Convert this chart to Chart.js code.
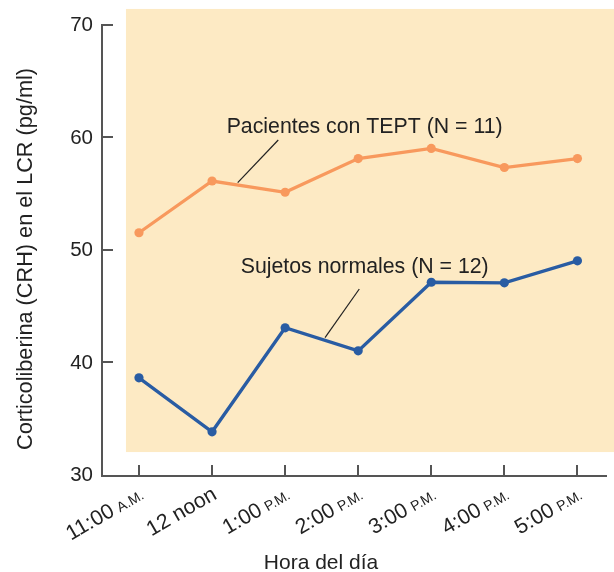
<html>
  <head>
    <script src="https://cdn.jsdelivr.net/npm/chart.js"></script>
    <style>
      body { margin: 0; background: #fff; }
    </style>
  </head>
  <body>
    <canvas id="myChart" width="614" height="572"></canvas>
    <script>
// horas del día (eje x) y valores de CRH en LCR (pg/ml)
const horas = ['11:00', '12 noon', '1:00', '2:00', '3:00', '4:00', '5:00'];
const sufijos = ['A.M.', '', 'P.M.', 'P.M.', 'P.M.', 'P.M.', 'P.M.'];
const tept = [51.5, 56.1, 55.1, 58.1, 59.0, 57.3, 58.1];
const normales = [38.6, 33.8, 43.05, 41.0, 47.1, 47.05, 49.0];
const marcasY = [30, 40, 50, 60, 70];

const naranja = 'rgb(248, 153, 93)';
const azul = 'rgb(41, 92, 163)';
const ejeColor = '#555';
const texto = '#222';
const fuente = '"Liberation Sans", Arial, Helvetica, sans-serif';

// rótulos dentro del gráfico (coordenadas en unidades de los ejes)
const rotulos = [
  { texto: 'Pacientes con TEPT (N = 11)', x: 1.20, y: 60.34, linea: [1.906, 59.75, 1.351, 55.95] },
  { texto: 'Sujetos normales (N = 12)', x: 1.392, y: 47.92, linea: [3.015, 46.5, 2.546, 42.17] }
];

const puntos = (vals) => vals.map((v, i) => ({ x: i, y: v }));

const extras = {
  id: 'extras',
  beforeDraw(chart) {
    // fondo sombreado del gráfico
    const ctx = chart.ctx, sx = chart.scales.x, sy = chart.scales.y;
    const x0 = sx.getPixelForValue(-0.178);
    const y0 = sy.getPixelForValue(71.4);
    const y1 = sy.getPixelForValue(32.0);
    ctx.save();
    ctx.fillStyle = 'rgb(253, 234, 196)';
    ctx.fillRect(x0, y0, chart.width - x0, y1 - y0);
    ctx.restore();
  },
  afterDraw(chart) {
    const ctx = chart.ctx, sx = chart.scales.x, sy = chart.scales.y;
    const area = chart.chartArea;
    ctx.save();

    // marcas hacia adentro
    ctx.strokeStyle = ejeColor;
    ctx.lineWidth = 2;
    marcasY.forEach(v => {
      if (v === 30) return;
      const y = Math.round(sy.getPixelForValue(v));
      ctx.beginPath();
      ctx.moveTo(area.left, y);
      ctx.lineTo(area.left + 11, y);
      ctx.stroke();
    });
    horas.forEach((h, i) => {
      const x = Math.round(sx.getPixelForValue(i));
      ctx.beginPath();
      ctx.moveTo(x, area.bottom);
      ctx.lineTo(x, area.bottom - 11);
      ctx.stroke();
    });

    // etiquetas del eje y
    ctx.fillStyle = texto;
    ctx.font = '20.5px ' + fuente;
    ctx.textAlign = 'right';
    ctx.textBaseline = 'middle';
    marcasY.forEach(v => {
      ctx.fillText(String(v), area.left - 9, sy.getPixelForValue(v) + 1);
    });

    // etiquetas del eje x, giradas
    horas.forEach((h, i) => {
      const x = sx.getPixelForValue(i);
      ctx.save();
      ctx.translate(x + 6, area.bottom + 22);
      ctx.rotate(-Math.PI / 6);
      ctx.textAlign = 'left';
      ctx.textBaseline = 'alphabetic';
      ctx.font = '14px ' + fuente;
      const wSuf = sufijos[i] ? ctx.measureText(sufijos[i]).width : 0;
      ctx.font = '21.3px ' + fuente;
      const esp = sufijos[i] ? 5 : 0;
      const wMain = ctx.measureText(h).width;
      const inicio = -(wMain + esp + wSuf);
      ctx.fillText(h, inicio, 0);
      if (sufijos[i]) {
        ctx.font = '14px ' + fuente;
        ctx.fillText(sufijos[i], inicio + wMain + esp, 0);
      }
      ctx.restore();
    });

    // títulos de los ejes
    ctx.font = '21px ' + fuente;
    ctx.textAlign = 'center';
    ctx.textBaseline = 'alphabetic';
    ctx.fillText('Hora del día', 321, 569);
    ctx.save();
    ctx.translate(32, 259);
    ctx.rotate(-Math.PI / 2);
    ctx.font = '21.7px ' + fuente;
    ctx.fillText('Corticoliberina (CRH) en el LCR (pg/ml)', 0, 0);
    ctx.restore();

    // rótulos de las series con su línea guía
    ctx.font = '21.3px ' + fuente;
    rotulos.forEach(r => {
      ctx.fillStyle = texto;
      ctx.textAlign = 'left';
      ctx.fillText(r.texto, sx.getPixelForValue(r.x), sy.getPixelForValue(r.y));
      ctx.strokeStyle = '#222';
      ctx.lineWidth = 1.2;
      ctx.beginPath();
      ctx.moveTo(sx.getPixelForValue(r.linea[0]), sy.getPixelForValue(r.linea[1]));
      ctx.lineTo(sx.getPixelForValue(r.linea[2]), sy.getPixelForValue(r.linea[3]));
      ctx.stroke();
    });

    ctx.restore();
  }
};

const data = {
  datasets: [{
    label: 'Pacientes con TEPT (N = 11)',
    data: puntos(tept),
    borderColor: naranja,
    backgroundColor: naranja,
    borderWidth: 3.3,
    pointRadius: 4.6,
    pointBorderWidth: 0,
    tension: 0
  }, {
    label: 'Sujetos normales (N = 12)',
    data: puntos(normales),
    borderColor: azul,
    backgroundColor: azul,
    borderWidth: 3.3,
    pointRadius: 4.6,
    pointBorderWidth: 0,
    tension: 0
  }]
};

const config = {
  type: 'line',
  data: data,
  options: {
    responsive: false,
    animation: false,
    devicePixelRatio: 1,
    layout: { padding: { left: 102, right: 8, top: 24.7, bottom: 96 } },
    plugins: { legend: { display: false }, tooltip: { enabled: false } },
    scales: {
      x: {
        type: 'linear',
        min: -0.506,
        max: 6.391,
        ticks: { display: false },
        grid: { display: false, drawTicks: false },
        border: { display: true, color: ejeColor, width: 2 }
      },
      y: {
        min: 29.87,
        max: 70,
        ticks: { display: false },
        grid: { display: false, drawTicks: false },
        border: { display: true, color: ejeColor, width: 2 }
      }
    }
  },
  plugins: [extras]
};

const myChart = new Chart(document.getElementById('myChart'), config);
    </script>
  </body>
</html>
